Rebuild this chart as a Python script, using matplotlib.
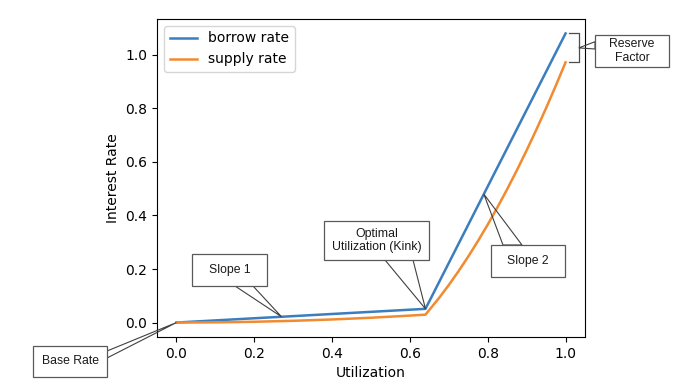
import numpy as np
import matplotlib
matplotlib.use("Agg")
import matplotlib.pyplot as plt
from matplotlib.patches import Rectangle, Polygon

# ---------------- data ----------------
utilization = [0.0, 0.1, 0.2, 0.3, 0.4, 0.5, 0.6, 0.64, 0.675, 0.7, 0.725, 0.75,
               0.775, 0.8, 0.825, 0.85, 0.875, 0.9, 0.925, 0.95, 0.975, 1.0]
borrow_rate = [0.0, 0.008, 0.016, 0.024, 0.032, 0.040, 0.048, 0.0512, 0.1512, 0.2227,
               0.2941, 0.3656, 0.4370, 0.5084, 0.5799, 0.6513, 0.7228, 0.7942, 0.8657,
               0.9371, 1.0086, 1.08]
supply_rate = [0.0, 0.0007, 0.0029, 0.0065, 0.0115, 0.018, 0.0259, 0.0295, 0.0919, 0.1403,
               0.1919, 0.2467, 0.3048, 0.3660, 0.4306, 0.4982, 0.5692, 0.6433, 0.7207,
               0.8012, 0.8850, 0.972]
x_ticks = [0.0, 0.2, 0.4, 0.6, 0.8, 1.0]
y_ticks = [0.0, 0.2, 0.4, 0.6, 0.8, 1.0]
kink_u = 0.64
slope1_u = 0.27
slope2_u = 0.79

# ---------------- figure ----------------
W, H = 700, 389
fig = plt.figure(figsize=(W / 100, H / 100), dpi=100)
ax = fig.add_axes([157 / W, 1 - 337 / H, (585 - 157) / W, (337 - 19) / H])

ax.plot(utilization, borrow_rate, color="#3b7dbf", lw=1.8, label="borrow rate")
ax.plot(utilization, supply_rate, color="#f28a30", lw=1.8, label="supply rate")
ax.set_xticks(x_ticks)
ax.set_yticks(y_ticks)
ax.set_xlabel("Utilization")
ax.set_ylabel("Interest Rate")
ax.legend(loc="upper left")
ax.set_xlim(ax.get_xlim())
ax.set_ylim(ax.get_ylim())

# bracket for reserve factor
ax.plot([1.01, 1.034, 1.034, 1.01], [borrow_rate[-1], borrow_rate[-1], supply_rate[-1], supply_rate[-1]],
        color="0.3", lw=0.9, clip_on=False)

to_fig = fig.transFigure.inverted()


def fpx(x, y):
    return (x / W, 1 - y / H)


def data_to_fig(u, r):
    return to_fig.transform(ax.transData.transform((u, r)))


def callout(text, box, base, tip):
    x0, y0, x1, y1 = box
    bl = fpx(x0, y1)
    tr = fpx(x1, y0)
    tail = Polygon([fpx(*base[0]), fpx(*base[1]), tip], closed=True,
                   transform=fig.transFigure, facecolor="none", edgecolor="0.25",
                   lw=0.8, zorder=5)
    fig.add_artist(tail)
    rect = Rectangle(bl, tr[0] - bl[0], tr[1] - bl[1], transform=fig.transFigure,
                     facecolor="white", edgecolor="0.35", lw=0.9, zorder=6)
    fig.add_artist(rect)
    c = fpx((x0 + x1) / 2, (y0 + y1) / 2)
    fig.text(c[0], c[1], text, ha="center", va="center", fontsize=8.8,
             family="Liberation Sans", color="0.1", zorder=7, linespacing=1.2)


callout("Base Rate", (33, 346, 107, 377), [(107, 351), (107, 358)],
        data_to_fig(utilization[0], borrow_rate[0]))
callout("Slope 1", (192, 254, 267, 286), [(235, 286), (253, 286)],
        data_to_fig(slope1_u, np.interp(slope1_u, utilization, borrow_rate)))
callout("Optimal\nUtilization (Kink)", (324, 221, 429, 260), [(385, 260), (413, 260)],
        data_to_fig(kink_u, np.interp(kink_u, utilization, borrow_rate)))
callout("Slope 2", (491, 245, 565, 277), [(503, 245), (522, 245)],
        data_to_fig(slope2_u, np.interp(slope2_u, utilization, borrow_rate)))
callout("Reserve\nFactor", (595, 35, 669, 67), [(595, 41.7), (595, 49)],
        data_to_fig(1.034, (borrow_rate[-1] + supply_rate[-1]) / 2))

fig.savefig("out.png", dpi=100)
